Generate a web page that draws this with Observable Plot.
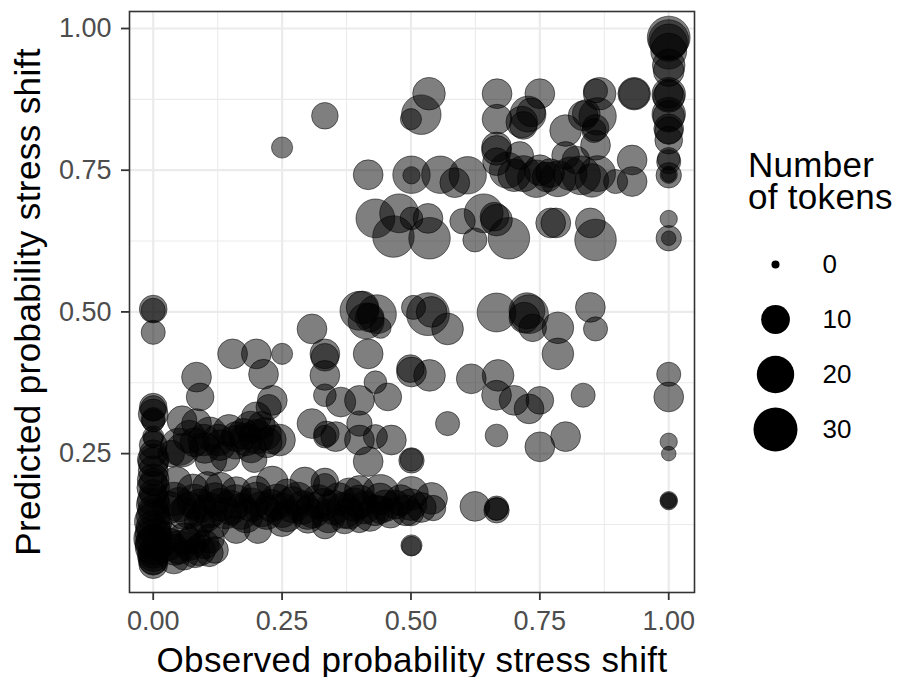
<!DOCTYPE html>
<html>
<head>
<meta charset="utf-8">
<script src="https://cdn.jsdelivr.net/npm/d3@7"></script>
<script src="https://cdn.jsdelivr.net/npm/@observablehq/plot@0.6"></script>
<style>
  html, body { margin: 0; padding: 0; background: #fff; }
  #wrap { position: relative; width: 899px; height: 677px; font-family: "Liberation Sans", Arial, sans-serif; }
  #main, #legend { position: absolute; top: 0; }
  #main { left: 0; }
  #legend { left: 740px; }
  #ltitle { position: absolute; left: 748px; top: 149px; font-size: 35px; line-height: 31.5px; color: #000; letter-spacing: 0.3px; }
</style>
</head>
<body>
<div id="wrap">
  <div id="main"></div>
  <div id="legend"></div>
  <div id="ltitle">Number<br>of tokens</div>
</div>
<script>
// [observed, predicted, tokens]
const colOne = [
  [1,0.984,28],[1,0.98,24],[1,0.975,20],[1,0.96,18],[1,0.935,14],[1,0.925,12],
  [1,0.884,15],[1,0.88,13],[1,0.885,10],[1,0.849,15],[1,0.845,13],[1,0.823,11],
  [1,0.82,9],[1,0.803,9],[1,0.765,6],[1,0.77,5],[1,0.741,7],[1,0.742,2],[1,0.742,1],
  [1,0.664,2],[1,0.63,7],[1,0.63,1],[1,0.39,6],[1,0.35,11],[1,0.271,2],[1,0.25,1],
  [1,0.168,2],[1,0.166,2],[1,0.167,1]
];
const rowTop = [
  [0.333,0.846,8],[0.25,0.79,4],
  [0.535,0.885,14],[0.52,0.848,23],[0.5,0.84,4],[0.667,0.885,11],[0.75,0.885,11],
  [0.667,0.84,11],[0.727,0.849,18],[0.733,0.852,10],[0.715,0.835,13],[0.718,0.829,9],
  [0.8,0.82,13],[0.866,0.885,14],[0.858,0.89,6],[0.933,0.885,14],[0.933,0.885,12],
  [0.834,0.846,11],[0.84,0.85,9],[0.862,0.845,20],[0.855,0.82,6],[0.858,0.825,8],[0.858,0.794,11]
];
const rowHigh = [
  [0.417,0.742,11],[0.501,0.742,20],[0.501,0.741,2],[0.557,0.742,20],[0.585,0.728,11],
  [0.61,0.741,20],[0.666,0.791,11],[0.666,0.785,11],[0.666,0.765,9],[0.711,0.776,9],
  [0.8,0.776,9],[0.687,0.75,18],[0.7,0.741,14],[0.718,0.744,18],[0.743,0.735,20],
  [0.764,0.738,11],[0.785,0.735,18],[0.809,0.744,15],[0.83,0.741,22],[0.851,0.732,15],
  [0.862,0.744,18],[0.897,0.73,6],[0.929,0.768,11],[0.929,0.73,11],[0.82,0.768,9],
  [0.77,0.745,10],[0.75,0.75,12]
];
const rowMid = [
  [0.431,0.665,22],[0.477,0.674,22],[0.501,0.665,5],[0.466,0.633,26],[0.533,0.665,11],
  [0.536,0.63,26],[0.6,0.66,7],[0.641,0.674,22],[0.666,0.662,13],[0.662,0.668,10],
  [0.624,0.627,6],[0.69,0.63,26],[0.771,0.657,11],[0.781,0.657,11],[0.848,0.657,11],
  [0.858,0.627,26]
];
const rowHalf = [
  [0,0.505,9],[0,0.503,6],[0,0.464,6],[0.4,0.502,22],[0.434,0.496,22],[0.413,0.484,18],
  [0.406,0.508,14],[0.441,0.472,4],[0.42,0.49,10],[0.505,0.508,6],[0.533,0.496,28],
  [0.54,0.5,12],[0.571,0.47,13],[0.666,0.499,22],[0.729,0.496,22],[0.725,0.502,18],
  [0.72,0.49,12],[0.736,0.472,9],[0.785,0.472,13],[0.785,0.426,13],[0.848,0.508,11],
  [0.858,0.47,6]
];
const midScatter = [
  [0.308,0.47,11],[0.333,0.426,11],[0.333,0.42,9],[0.333,0.388,11],[0.417,0.426,11],
  [0.154,0.426,11],[0.2,0.426,11],[0.25,0.426,4],[0.214,0.39,11],[0.084,0.385,11],
  [0.091,0.35,9],[0.231,0.344,11],[0.224,0.332,7],[0.333,0.353,5],[0.364,0.341,11],
  [0.4,0.344,11],[0.431,0.376,5],[0.455,0.35,9],[0.501,0.394,11],[0.499,0.4,9],
  [0.536,0.388,13],[0.617,0.382,11],[0.669,0.388,13],[0.666,0.353,11],[0.7,0.344,11],
  [0.729,0.329,11],[0.75,0.344,9],[0.834,0.353,6],[0.571,0.303,6],[0.666,0.282,5],
  [0.75,0.262,11],[0.8,0.28,11],[0.308,0.303,11],[0.333,0.28,5],[0.336,0.285,7],
  [0.354,0.28,11],[0.4,0.303,7],[0.4,0.274,11],[0.431,0.28,6],[0.462,0.274,11],
  [0.417,0.236,11],[0.501,0.239,5],[0.501,0.238,7]
];
const colZero = [
  [0,0.332,9],[0,0.33,7],[0,0.32,11],[0,0.31,6],[0,0.308,5],[0,0.277,3],[0,0.28,4],
  [0,0.265,9],[0,0.25,9],[0,0.239,13],[0,0.235,11],[0,0.22,11],[0,0.204,13],[0,0.2,9],
  [0,0.19,14],[0,0.18,9],[0,0.168,13],[0,0.16,15],[0,0.15,12],[0,0.14,15],[0,0.13,20],
  [0,0.12,16],[0,0.11,18],[0,0.1,22],[0,0.095,15],[0,0.092,18],[0,0.085,18],[0,0.075,12],
  [0,0.07,13],[0,0.063,11],[0,0.06,9],[0,0.055,10]
];
const bandUpper = [
  [0.056,0.256,15],[0.084,0.303,11],[0.098,0.274,13],[0.126,0.274,13],[0.147,0.291,13],
  [0.161,0.28,11],[0.175,0.285,12],[0.189,0.297,13],[0.2,0.315,11],[0.196,0.239,7],
  [0.217,0.285,14],[0.23,0.275,10],[0.245,0.274,13],[0.112,0.239,13],[0.14,0.245,11],
  [0.08,0.27,10],[0.21,0.3,9],[0.035,0.25,8],[0.056,0.308,11],[0.05,0.262,20],
  [0.07,0.28,14],[0.11,0.285,15],[0.13,0.265,12],[0.16,0.27,15],[0.18,0.275,14],
  [0.2,0.28,16],[0.22,0.27,12],[0.19,0.26,11],[0.1,0.26,12]
];
const bandLower = [
  [0.077,0.186,13],[0.105,0.192,11],[0.161,0.183,11],[0.231,0.2,13],[0.294,0.2,11],
  [0.333,0.2,9],[0.333,0.195,5],[0.441,0.18,20],[0.501,0.18,15],[0.54,0.171,13],
  [0.543,0.154,7],[0.624,0.157,11],[0.666,0.154,6],[0.666,0.15,7],[0.666,0.152,5],
  [0.045,0.2,12],[0.13,0.19,12],[0.2,0.185,10],[0.26,0.18,10],[0.38,0.18,12],[0.4,0.185,11],
  [0.03,0.155,14],[0.05,0.16,16],[0.07,0.15,18],[0.09,0.158,15],[0.11,0.15,17],
  [0.13,0.16,14],[0.15,0.155,16],[0.17,0.148,18],[0.19,0.16,15],[0.21,0.152,17],
  [0.23,0.158,14],[0.25,0.15,16],[0.27,0.16,18],[0.29,0.155,15],[0.31,0.15,17],
  [0.33,0.16,14],[0.35,0.155,16],[0.37,0.15,18],[0.39,0.16,15],[0.41,0.155,14],
  [0.43,0.15,12],[0.45,0.158,13],[0.47,0.16,10],[0.49,0.15,12],[0.5,0.16,13],
  [0.52,0.155,11],[0.5,0.145,7],
  [0.161,0.116,9],[0.203,0.116,9],[0.333,0.122,7],[0.371,0.133,9],[0.4,0.133,7],
  [0.441,0.151,9],[0.09,0.13,12],[0.12,0.125,10],[0.25,0.13,11],[0.3,0.135,10],
  [0.04,0.17,15],[0.08,0.165,17],[0.12,0.17,14],[0.16,0.165,16],[0.2,0.17,15],
  [0.24,0.165,17],[0.28,0.17,15],[0.32,0.165,16],[0.36,0.17,14],[0.4,0.165,15],
  [0.44,0.17,13],[0.48,0.168,12],[0.06,0.145,14],[0.1,0.14,15],[0.14,0.145,13],
  [0.18,0.14,15],[0.22,0.145,14],[0.26,0.14,13],[0.3,0.145,14],[0.34,0.14,15],
  [0.38,0.145,13],[0.42,0.14,12],[0.46,0.145,11]
];
const lowLeft = [
  [0.042,0.08,12],[0.081,0.075,11],[0.109,0.075,9],[0.06,0.1,13],[0.1,0.09,10],
  [0.03,0.09,14],[0.12,0.08,8],[0.501,0.087,3],[0.501,0.088,4],
  [0.02,0.1,16],[0.05,0.085,15],[0.07,0.09,14],[0.09,0.08,13],[0.04,0.065,12],
  [0.08,0.1,12],[0.11,0.1,10],[0.06,0.07,10]
];

const xMajor = [0, 0.25, 0.5, 0.75, 1];
const xMinor = [0.125, 0.375, 0.625, 0.875];
const yMajor = [0.25, 0.5, 0.75, 1];
const yMinor = [0.125, 0.375, 0.625, 0.875];
const legendValues = [0, 10, 20, 30];

const xTitle = "Observed probability stress shift";
const yTitle = "Predicted probability stress shift";

const data = [colOne, rowTop, rowHigh, rowMid, rowHalf, midScatter, colZero, bandUpper, bandLower, lowLeft]
  .flat().map(([obs, pred, n]) => ({obs, pred, n}));

const rScale = {type: "sqrt", domain: [0, 30], range: [4, 22]};
const font = "'Liberation Sans', Arial, sans-serif";

const main = Plot.plot({
  width: 899, height: 677,
  marginLeft: 129, marginRight: 205, marginTop: 11, marginBottom: 85,
  style: {fontFamily: font, background: "#fff", overflow: "visible"},
  x: {domain: [-0.046, 1.05]},
  y: {domain: [0.005, 1.03]},
  r: rScale,
  marks: [
    Plot.ruleX(xMinor, {stroke: "#ebebeb", strokeWidth: 1.1}),
    Plot.ruleY(yMinor, {stroke: "#ebebeb", strokeWidth: 1.1}),
    Plot.ruleX(xMajor, {stroke: "#ebebeb", strokeWidth: 2.2}),
    Plot.ruleY(yMajor, {stroke: "#ebebeb", strokeWidth: 2.2}),
    Plot.dot(data, {x: "obs", y: "pred", r: "n", fill: "black", fillOpacity: 0.5,
                    stroke: "black", strokeOpacity: 0.5, strokeWidth: 1}),
    Plot.frame({stroke: "#333", strokeWidth: 1.6}),
    Plot.axisX(xMajor, {tickSize: 8, tickPadding: 10, fontSize: 27, label: null,
                        tickFormat: d3.format(".2f"), color: "#333", strokeWidth: 1.8}),
    Plot.axisY(yMajor, {tickSize: 8, tickPadding: 10, fontSize: 27, label: null,
                        tickFormat: d3.format(".2f"), color: "#333", strokeWidth: 1.8}),
    Plot.text([xTitle], {frameAnchor: "bottom", dy: 79, lineAnchor: "bottom",
                         fontSize: 35, fill: "black"}),
    Plot.text([yTitle], {frameAnchor: "left", dx: -101, rotate: -90, lineAnchor: "middle",
                         textAnchor: "middle", fontSize: 35, fill: "black"})
  ]
});
document.getElementById("main").appendChild(main);
main.querySelectorAll('g[aria-label="text"] text').forEach(t => t.setAttribute("letter-spacing", "0.4"));
main.querySelectorAll('g[aria-label$="tick label"]').forEach(g => {
  g.setAttribute("fill", "#4d4d4d");
  g.querySelectorAll("text").forEach(t => { t.style.fontSize = "27px"; t.setAttribute("font-size", "27"); });
});

const legend = Plot.plot({
  width: 159, height: 677,
  marginLeft: 35, marginRight: 0, marginTop: 0, marginBottom: 0,
  style: {fontFamily: font, background: "transparent", overflow: "visible"},
  x: {axis: null},
  y: {type: "point", domain: legendValues, range: [263, 430], padding: 0, axis: null},
  r: rScale,
  marks: [
    Plot.dot(legendValues, {y: d => d, r: d => d, fill: "black", frameAnchor: "left"}),
    Plot.text(legendValues, {y: d => d, text: d => String(d), frameAnchor: "left", dx: 47,
                             textAnchor: "start", fontSize: 26, fill: "black"})
  ]
});
document.getElementById("legend").appendChild(legend);
legend.querySelectorAll('g[aria-label="text"] text').forEach(t => { t.style.fontSize = "26px"; });
</script>
</body>
</html>
